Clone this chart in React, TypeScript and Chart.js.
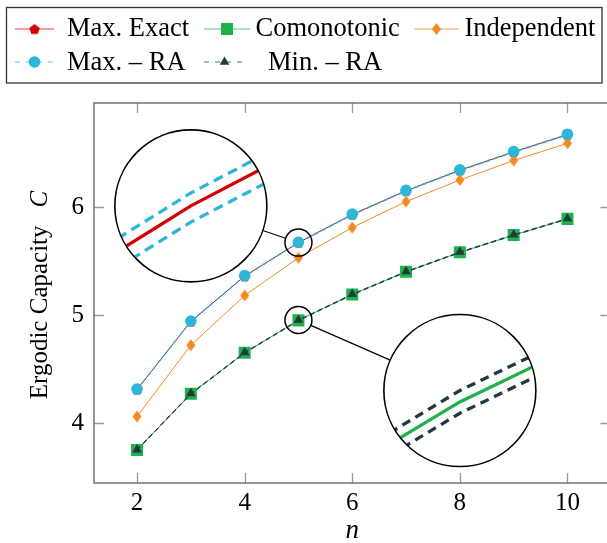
import { useEffect, useRef } from 'react';
import { Chart, registerables } from 'chart.js';

Chart.register(...registerables);

// ---------- data ----------
const nValues = [2, 3, 4, 5, 6, 7, 8, 9, 10];
const maxExact = [4.31, 4.94, 5.36, 5.67, 5.93, 6.15, 6.34, 6.51, 6.67];
const maxRAUpper = [4.314, 4.944, 5.364, 5.674, 5.934, 6.154, 6.344, 6.514, 6.674];
const maxRALower = [4.305, 4.935, 5.355, 5.665, 5.925, 6.145, 6.335, 6.505, 6.665];
const comonotonic = [3.75, 4.27, 4.65, 4.95, 5.19, 5.4, 5.58, 5.74, 5.89];
const minRAUpper = [3.7535, 4.2735, 4.6535, 4.9535, 5.1935, 5.4035, 5.5835, 5.7435, 5.8935];
const minRALower = [3.7465, 4.2665, 4.6465, 4.9465, 5.1865, 5.3965, 5.5765, 5.7365, 5.8865];
const independent = [4.06, 4.72, 5.18, 5.53, 5.81, 6.05, 6.25, 6.43, 6.59];

const xTicks = [2, 4, 6, 8, 10];
const yTicks = [4, 5, 6];
const legendLabels = ['Max. Exact', 'Comonotonic', 'Independent', 'Max. \u2013 RA', 'Min. \u2013 RA'];
const xTitle = 'n';
const yTitleText = 'Ergodic Capacity';
const yTitleSymbol = 'C';

const spyFocus = [
  { x: 5, y: 5.67 },
  { x: 5, y: 4.9535 },
];
const spyCenter = [
  { x: 3, y: 6.01 },
  { x: 8, y: 4.3 },
];

// ---------- styles ----------
const FONT = '"Liberation Serif", "Times New Roman", serif';
const RED = '#d40000';
const GREEN = '#1fb14a';
const ORANGE = '#f28a1e';
const CYAN = '#2bb7d8';
const DARK = '#233940';

const MAG = 30;
const SMALL_R = 13.5;
const BIG_R = 76;
const CANVAS_W = 619;

function makeDiamond(color: string) {
  const c = document.createElement('canvas');
  c.width = 10;
  c.height = 14;
  const g = c.getContext('2d')!;
  g.fillStyle = color;
  g.beginPath();
  g.moveTo(5, 1);
  g.lineTo(9.5, 7);
  g.lineTo(5, 13);
  g.lineTo(0.5, 7);
  g.closePath();
  g.fill();
  return c;
}

function makePentagon(color: string, r: number) {
  const s = Math.ceil(2 * r + 2);
  const c = document.createElement('canvas');
  c.width = s;
  c.height = s;
  const g = c.getContext('2d')!;
  g.fillStyle = color;
  g.beginPath();
  for (let k = 0; k < 5; k++) {
    const a = -Math.PI / 2 + (k * 2 * Math.PI) / 5;
    const px = s / 2 + r * Math.cos(a);
    const py = s / 2 + 0.6 + r * Math.sin(a);
    if (k === 0) g.moveTo(px, py);
    else g.lineTo(px, py);
  }
  g.closePath();
  g.fill();
  return c;
}

function drawMarker(ctx: CanvasRenderingContext2D, style: any, x: number, y: number, r: number, color: string) {
  if (typeof style !== 'string') {
    ctx.drawImage(style, x - style.width / 2, y - style.height / 2);
    return;
  }
  ctx.fillStyle = color;
  ctx.beginPath();
  if (style === 'circle') ctx.arc(x, y, r, 0, Math.PI * 2);
  else if (style === 'rect') {
    const s = r * Math.SQRT1_2;
    ctx.rect(x - s, y - s, 2 * s, 2 * s);
  } else if (style === 'triangle') {
    ctx.moveTo(x, y - r);
    ctx.lineTo(x + r * 0.866, y + r * 0.5);
    ctx.lineTo(x - r * 0.866, y + r * 0.5);
    ctx.closePath();
  }
  ctx.fill();
}

const toPts = (vals: number[]) => vals.map((v, i) => ({ x: nValues[i], y: v }));

export default function App() {
  const ref = useRef<HTMLCanvasElement | null>(null);

  useEffect(() => {
    if (!ref.current) return;
    const diamond = makeDiamond(ORANGE);
    const pentagon = makePentagon(RED, 5.5);

    const datasets: any[] = [
      { label: legendLabels[0], data: toPts(maxExact), borderColor: RED, pointBackgroundColor: RED, pointStyle: pentagon, pointRadius: 5, order: 7 },
      { label: legendLabels[1], data: toPts(comonotonic), borderColor: GREEN, pointBackgroundColor: GREEN, pointStyle: 'rect', pointRadius: 8.5, order: 6 },
      { label: legendLabels[2], data: toPts(independent), borderColor: ORANGE, pointBackgroundColor: ORANGE, pointStyle: diamond, pointRadius: 5, order: 5 },
      { label: '', data: toPts(maxRALower), borderColor: CYAN, pointRadius: 0, borderDash: [5, 3.5], order: 4 },
      { label: legendLabels[3], data: toPts(maxRAUpper), borderColor: CYAN, pointBackgroundColor: CYAN, pointStyle: 'circle', pointRadius: 5.8, borderDash: [5, 3.5], order: 3 },
      { label: '', data: toPts(minRALower), borderColor: DARK, pointRadius: 0, borderDash: [5, 3.5], order: 2 },
      { label: legendLabels[4], data: toPts(minRAUpper), borderColor: DARK, pointBackgroundColor: DARK, pointStyle: 'triangle', pointRadius: 5.6, borderDash: [5, 3.5], order: 1 },
    ].map((d) => ({ borderWidth: 1, pointBorderWidth: 0, tension: 0, fill: false, pointHitRadius: 0, ...d }));

    const spies = [
      {
        focus: spyFocus[0],
        center: spyCenter[0],
        series: [
          { values: maxExact, color: RED, dash: [] as number[] },
          { values: maxRAUpper, color: CYAN, dash: [10, 6] },
          { values: maxRALower, color: CYAN, dash: [10, 6] },
        ],
      },
      {
        focus: spyFocus[1],
        center: spyCenter[1],
        series: [
          { values: comonotonic, color: GREEN, dash: [] as number[] },
          { values: minRAUpper, color: DARK, dash: [9, 6] },
          { values: minRALower, color: DARK, dash: [9, 6] },
        ],
      },
    ];

    const legendLayout = [
      { ds: 0, x0: 15, x1: 54, y: 29, tx: 67, ty: 36, dash: [] as number[] },
      { ds: 1, x0: 204, x1: 250, y: 29, tx: 255.5, ty: 36, dash: [] as number[] },
      { ds: 2, x0: 414, x1: 459, y: 29, tx: 464.5, ty: 36, dash: [] as number[] },
      { ds: 4, x0: 15, x1: 54, y: 62, tx: 67, ty: 70, dash: [5, 6] },
      { ds: 6, x0: 204, x1: 245, y: 62, tx: 268, ty: 70, dash: [5, 6] },
    ];

    const framePlugin = {
      id: 'frame',
      beforeDatasetsDraw(chart: any) {
        const { ctx, chartArea: a, scales } = chart;
        ctx.save();
        ctx.strokeStyle = '#9a9a9a';
        ctx.lineWidth = 1.3;
        ctx.beginPath();
        xTicks.forEach((v) => {
          const px = Math.round(scales.x.getPixelForValue(v)) + 0.5;
          ctx.moveTo(px, a.bottom);
          ctx.lineTo(px, a.bottom - 10);
          ctx.moveTo(px, a.top);
          ctx.lineTo(px, a.top + 10);
        });
        yTicks.forEach((v) => {
          const py = Math.round(scales.y.getPixelForValue(v)) + 0.5;
          ctx.moveTo(a.left, py);
          ctx.lineTo(a.left + 10, py);
          ctx.moveTo(a.right, py);
          ctx.lineTo(a.right - 10, py);
        });
        ctx.stroke();
        ctx.strokeStyle = '#6a6a6a';
        ctx.lineWidth = 1.4;
        ctx.strokeRect(a.left, a.top, a.right - a.left, a.bottom - a.top);
        ctx.restore();
      },
      afterDatasetsDraw(chart: any) {
        const { ctx, scales } = chart;
        const xs = scales.x;
        const ys = scales.y;
        spies.forEach((spy) => {
          const fx = xs.getPixelForValue(spy.focus.x);
          const fy = ys.getPixelForValue(spy.focus.y);
          const cx = xs.getPixelForValue(spy.center.x);
          const cy = ys.getPixelForValue(spy.center.y);
          const dx = cx - fx;
          const dy = cy - fy;
          const len = Math.hypot(dx, dy);
          const ux = dx / len;
          const uy = dy / len;
          ctx.save();
          ctx.strokeStyle = '#000';
          ctx.lineWidth = 1.2;
          ctx.beginPath();
          ctx.moveTo(fx + ux * SMALL_R, fy + uy * SMALL_R);
          ctx.lineTo(cx - ux * BIG_R, cy - uy * BIG_R);
          ctx.stroke();
          ctx.lineWidth = 1.5;
          ctx.beginPath();
          ctx.arc(fx, fy, SMALL_R, 0, Math.PI * 2);
          ctx.stroke();
          ctx.beginPath();
          ctx.arc(cx, cy, BIG_R, 0, Math.PI * 2);
          ctx.fillStyle = '#fff';
          ctx.fill();
          ctx.save();
          ctx.clip();
          spy.series.forEach((s) => {
            ctx.beginPath();
            s.values.forEach((v, i) => {
              const px = cx + MAG * (xs.getPixelForValue(nValues[i]) - fx);
              const py = cy + MAG * (ys.getPixelForValue(v) - fy);
              if (i === 0) ctx.moveTo(px, py);
              else ctx.lineTo(px, py);
            });
            ctx.strokeStyle = s.color;
            ctx.lineWidth = 3.3;
            ctx.setLineDash(s.dash);
            ctx.stroke();
          });
          ctx.restore();
          ctx.setLineDash([]);
          ctx.strokeStyle = '#000';
          ctx.lineWidth = 1.6;
          ctx.beginPath();
          ctx.arc(cx, cy, BIG_R, 0, Math.PI * 2);
          ctx.stroke();
          ctx.restore();
        });
      },
      afterDraw(chart: any) {
        const { ctx, chartArea: a } = chart;
        ctx.save();
        ctx.strokeStyle = '#333';
        ctx.lineWidth = 1.3;
        ctx.strokeRect(6.5, 7.5, 595.5, 75.5);
        ctx.font = `26.5px ${FONT}`;
        ctx.textBaseline = 'alphabetic';
        ctx.textAlign = 'left';
        legendLayout.forEach((e) => {
          const d = chart.data.datasets[e.ds];
          ctx.strokeStyle = d.borderColor;
          ctx.globalAlpha = 0.75;
          ctx.lineWidth = 1.2;
          ctx.setLineDash(e.dash);
          ctx.beginPath();
          ctx.moveTo(e.x0, e.y);
          ctx.lineTo(e.x1, e.y);
          ctx.stroke();
          ctx.setLineDash([]);
          ctx.globalAlpha = 1;
          drawMarker(ctx, d.pointStyle, (e.x0 + e.x1) / 2, e.y, d.pointRadius, d.pointBackgroundColor);
          ctx.fillStyle = '#000';
          ctx.fillText(d.label, e.tx, e.ty);
        });
        ctx.font = `italic 27px ${FONT}`;
        ctx.textAlign = 'center';
        ctx.textBaseline = 'alphabetic';
        ctx.fillStyle = '#000';
        ctx.fillText(xTitle, (a.left + a.right) / 2, 538);
        ctx.save();
        ctx.translate(47, (a.top + a.bottom) / 2 + 2);
        ctx.rotate(-Math.PI / 2);
        ctx.font = `25px ${FONT}`;
        const w1 = ctx.measureText(yTitleText).width;
        ctx.font = `italic 25px ${FONT}`;
        const w2 = ctx.measureText(yTitleSymbol).width;
        const gap = 18;
        const total = w1 + gap + w2;
        ctx.textAlign = 'left';
        ctx.font = `25px ${FONT}`;
        ctx.fillText(yTitleText, -total / 2, 0);
        ctx.font = `italic 25px ${FONT}`;
        ctx.fillText(yTitleSymbol, -total / 2 + w1 + gap, 0);
        ctx.restore();
        ctx.restore();
      },
    };

    const chart = new Chart(ref.current, {
      type: 'line',
      data: { datasets },
      options: {
        animation: false,
        responsive: false,
        events: [],
        layout: { padding: { top: 103, right: 2, bottom: 0, left: 0 } },
        plugins: { legend: { display: false }, tooltip: { enabled: false } },
        scales: {
          x: {
            type: 'linear',
            min: 1.2,
            max: 10.8,
            afterBuildTicks: (s: any) => {
              s.ticks = xTicks.map((v) => ({ value: v }));
            },
            afterFit: (s: any) => {
              s.height = 60;
              s.paddingLeft = 0;
              s.paddingRight = 0;
            },
            grid: { display: false, drawTicks: false },
            border: { display: false },
            ticks: { padding: 5, color: '#000', font: { family: FONT, size: 25 }, maxRotation: 0, autoSkip: false },
          },
          y: {
            type: 'linear',
            min: 3.444,
            max: 6.963,
            afterBuildTicks: (s: any) => {
              s.ticks = yTicks.map((v) => ({ value: v }));
            },
            afterFit: (s: any) => {
              s.width = 94;
              s.paddingTop = 0;
              s.paddingBottom = 0;
            },
            grid: { display: false, drawTicks: false },
            border: { display: false },
            ticks: { padding: 10, color: '#000', font: { family: FONT, size: 25 } },
          },
        },
      } as any,
      plugins: [framePlugin],
    });
    return () => chart.destroy();
  }, []);

  return (
    <div style={{ position: 'fixed', left: 0, top: 0, width: 607, height: 543, overflow: 'hidden', background: '#fff' }}>
      <canvas ref={ref} width={CANVAS_W} height={543} style={{ display: 'block' }} />
    </div>
  );
}
